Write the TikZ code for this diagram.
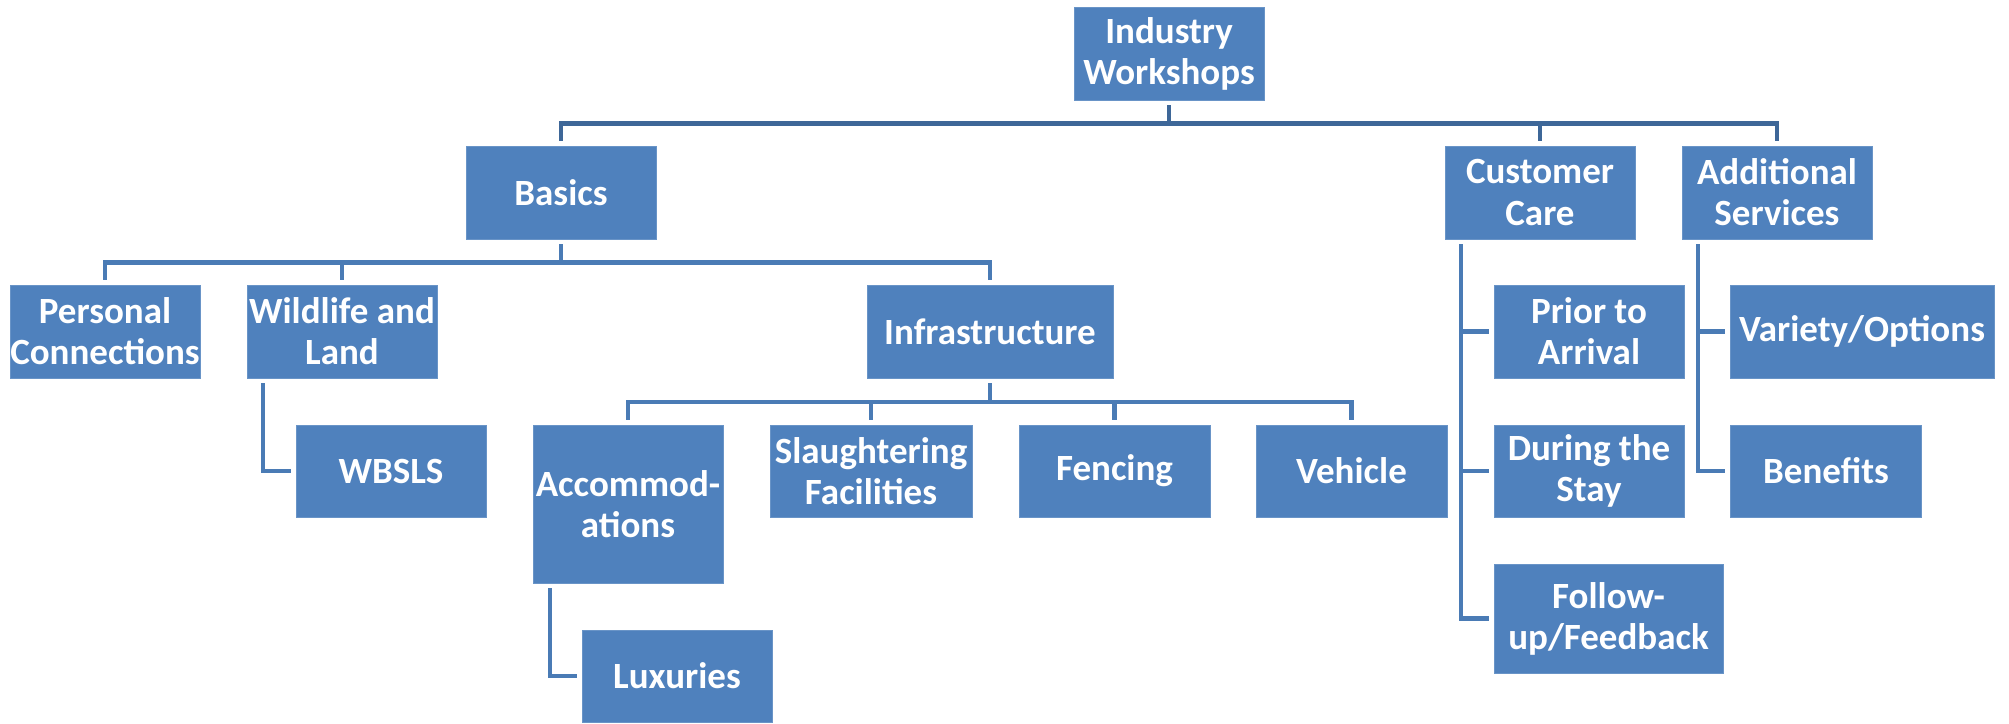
\documentclass[tikz,border=0pt]{standalone}
\usepackage{fontspec}
\setmainfont{Carlito}
\usetikzlibrary{calc}
\definecolor{boxblue}{HTML}{4F81BD}
\definecolor{topline}{HTML}{3E6798}
\definecolor{subline}{HTML}{4A7BB5}
\begin{document}
\begin{tikzpicture}[x=1pt,y=-1pt,
  box/.style={rectangle, fill=boxblue, draw=boxblue!85!white, line width=0.8pt, text=white, inner sep=0pt,
    align=center, font=\fontsize{37}{41}\selectfont\bfseries,
    minimum width=190pt, minimum height=93pt},
  conn/.style={draw=subline, line width=4.6pt, shorten <=5pt, shorten >=5pt},
  topconn/.style={conn, draw=topline}]
\useasboundingbox (0,0) rectangle (2009,723);
% level 0
\node[box] (iw) at (1169,53.5) {Industry\\Workshops};
% level 1
\node[box] (basics) at (561,192.5) {Basics};
\node[box] (cc) at (1540,192.5) {Customer\\Care};
\node[box] (as) at (1777,192.5) {Additional\\Services};
% level 2
\node[box] (pc) at (105,331.5) {Personal\\Connections};
\node[box] (wl) at (342,331.5) {Wildlife and\\Land};
\node[box, minimum width=246pt] (infra) at (990,331.5) {Infrastructure};
\node[box] (pta) at (1589,331.5) {Prior to\\Arrival};
\node[box, minimum width=264pt] (vo) at (1862,331.5) {Variety/Options};
% level 3
\node[box, minimum height=92pt] (wbsls) at (391,471) {WBSLS};
\node[box, minimum height=158pt] (acc) at (628,504) {Accommod-\\ations};
\node[box, minimum width=202pt, minimum height=92pt] (sf) at (871,471) {Slaughtering\\Facilities};
\node[box, minimum width=191pt, minimum height=92pt] (fen) at (1114.5,471) {Fencing};
\node[box, minimum width=191pt, minimum height=92pt] (veh) at (1351.5,471) {Vehicle};
\node[box, minimum height=92pt] (dts) at (1589,471) {During the\\Stay};
\node[box, minimum width=191pt, minimum height=92pt] (ben) at (1826,471) {Benefits};
\node[box, minimum width=229pt, minimum height=109pt] (fu) at (1608.5,618.5) {Follow-\\up/Feedback};
\node[box, minimum height=92pt] (lux) at (677,676) {Luxuries};
% connectors: top
\foreach \c in {basics,cc,as}
  \draw[topconn] (iw.south) -- ++(0,23) -| (\c.north);
% basics
\foreach \c in {pc,wl,infra}
  \draw[conn] (basics.south) -- ++(0,23) -| (\c.north);
% infrastructure
\foreach \c in {acc,sf,fen,veh}
  \draw[conn] (infra.south) -- ++(0,23.5) -| (\c.north);
% side branches
\draw[conn] ([xshift=-79pt]wl.south) |- (wbsls.west);
\draw[conn] ([xshift=-78pt]acc.south) |- (lux.west);
\foreach \c in {pta,dts,fu}
  \draw[conn] ([xshift=-79pt]cc.south) |- (\c.west);
\foreach \c in {vo,ben}
  \draw[conn] ([xshift=-79pt]as.south) |- (\c.west);
\end{tikzpicture}
\end{document}
